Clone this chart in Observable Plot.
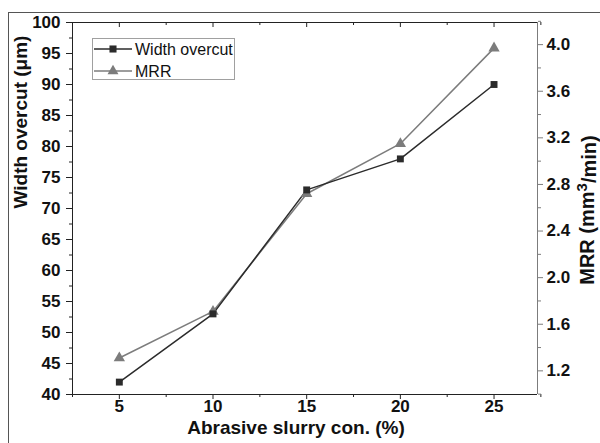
<!DOCTYPE html>
<html><head><meta charset="utf-8">
<script src="https://cdn.jsdelivr.net/npm/d3@7"></script>
<script src="https://cdn.jsdelivr.net/npm/@observablehq/plot@0.6"></script>
<style>
body{margin:0;background:#fff;}
#chart{position:relative;width:600px;height:443px;overflow:hidden;background:#fff;}
#chart svg{display:block;}
</style></head><body><div id="chart"></div>
<script>
// ---- data ----
const concentration = [5, 10, 15, 20, 25];
const widthOvercut = [42, 53, 73, 78, 90];
const mrr = [1.31, 1.71, 2.72, 3.15, 3.97];
const seriesNames = ["Width overcut", "MRR"];
const xTicks = [5, 10, 15, 20, 25];
const xMinorTicks = [2.5, 7.5, 12.5, 17.5, 22.5, 27.5];
const yTicks = [40, 45, 50, 55, 60, 65, 70, 75, 80, 85, 90, 95, 100];
const yMinorTicks = [42.5, 47.5, 52.5, 57.5, 62.5, 67.5, 72.5, 77.5, 82.5, 87.5, 92.5, 97.5];
const mrrTicks = [1.2, 1.6, 2.0, 2.4, 2.8, 3.2, 3.6, 4.0];
const mrrMinorTicks = [1.0, 1.4, 1.8, 2.2, 2.6, 3.0, 3.4, 3.8, 4.2];
const xTitle = "Abrasive slurry con. (%)";
const yTitle = "Width overcut (μm)";
const xDomain = [2.5, 27.32];
const yDomain = [40, 100];
const mrrDomain = [0.997, 4.19];

// ---- helpers ----
const FONT = "'Liberation Sans', Arial, Helvetica, sans-serif";
const toLeft = m => yDomain[0] + (m - mrrDomain[0]) / (mrrDomain[1] - mrrDomain[0]) * (yDomain[1] - yDomain[0]);
const rows = concentration.map((c, i) => ({c, w: widthOvercut[i], m: mrr[i]}));

const W = 600, H = 443, mL = 72, mR = 63, mT = 22, mB = 49;
const innerH = H - mT - mB;
const DARK = "#2b2b2b", GRAY = "#7c7c7c";
const TICKFONT = {fontSize: 17, fontWeight: "bold", fill: "#111"};

const plot = Plot.plot({
  width: W, height: H,
  marginLeft: mL, marginRight: mR, marginTop: mT, marginBottom: mB,
  x: {domain: xDomain},
  y: {domain: yDomain},
  style: {fontFamily: FONT, fontSize: "16px", background: "transparent", overflow: "hidden", color: "#111"},
  marks: [
    // frame lines
    Plot.ruleY([yDomain[1]], {stroke: "#222"}),
    Plot.ruleY([yDomain[0]], {stroke: "#222"}),
    Plot.ruleX([xDomain[0]], {stroke: "#222"}),
    Plot.ruleX([xDomain[1]], {stroke: GRAY}),
    // left axis ticks
    Plot.axisY(yTicks, {tickSize: 6, tickFormat: () => "", stroke: "#222", label: null}),
    Plot.axisY(yMinorTicks, {tickSize: 3, tickFormat: () => "", stroke: "#222", label: null}),
    Plot.text(yTicks, {x: xDomain[0], y: d => d, text: d => String(d), textAnchor: "end", dx: -12, ...TICKFONT}),
    // bottom axis ticks
    Plot.axisX(xTicks, {tickSize: 5, tickFormat: () => "", stroke: "#222", label: null}),
    Plot.axisX(xMinorTicks, {tickSize: 3, tickFormat: () => "", stroke: "#222", label: null}),
    Plot.text(xTicks, {x: d => d, frameAnchor: "bottom", dy: 17, text: d => String(d), ...TICKFONT}),
    // top inward ticks
    Plot.ruleX(xTicks, {x: d => d, insetBottom: innerH - 5, stroke: "#222"}),
    Plot.ruleX(xMinorTicks, {x: d => d, insetBottom: innerH - 3, stroke: "#222"}),
    // right (MRR) axis
    Plot.axisY(mrrTicks.map(toLeft), {anchor: "right", tickSize: 5, tickFormat: () => "", stroke: GRAY, label: null}),
    Plot.axisY(mrrMinorTicks.map(toLeft), {anchor: "right", tickSize: 3, tickFormat: () => "", stroke: GRAY, label: null}),
    Plot.text(mrrTicks, {x: xDomain[1], y: d => toLeft(d), text: d => d.toFixed(1), textAnchor: "start", dx: 9, ...TICKFONT}),
    // series
    Plot.line(rows, {x: "c", y: d => toLeft(d.m), stroke: GRAY, strokeWidth: 1.5}),
    Plot.line(rows, {x: "c", y: "w", stroke: DARK, strokeWidth: 1.5}),
    Plot.dot(rows, {x: "c", y: d => toLeft(d.m), symbol: "triangle", r: 4.2, fill: GRAY, stroke: null}),
    Plot.dot(rows, {x: "c", y: "w", symbol: "square", r: 3.9, fill: DARK, stroke: null}),
    // titles
    Plot.text([xTitle], {frameAnchor: "bottom", dx: -9, dy: 39, fontSize: 19, fontWeight: "bold", fill: "#111"}),
    Plot.text([yTitle], {frameAnchor: "left", dx: -52, rotate: -90, fontSize: 19, fontWeight: "bold", fill: "#111"})
  ]
});

document.getElementById("chart").appendChild(plot);

const svg = d3.select(plot);

// decorations: outer figure frame, right title with superscript, legend
svg.append("rect").attr("x", 8.5).attr("y", 12.5).attr("width", 800).attr("height", 800)
  .attr("fill", "none").attr("stroke", "#555");

const rt = svg.append("text")
  .attr("transform", "translate(594,210) rotate(-90)")
  .attr("text-anchor", "middle")
  .style("font-family", FONT).style("font-size", "20px").style("font-weight", "bold").attr("fill", "#111");
rt.append("tspan").text("MRR (mm");
rt.append("tspan").attr("dy", "-0.45em").style("font-size", "15px").text("3");
rt.append("tspan").attr("dy", "0.45em").text("/min)");

const lg = svg.append("g");
lg.append("rect").attr("x", 92.5).attr("y", 38.5).attr("width", 142).attr("height", 41)
  .attr("fill", "#fff").attr("stroke", "#a0a0a0");
const entries = [
  {name: seriesNames[0], color: DARK, sym: d3.symbolSquare, size: 50, y: 49},
  {name: seriesNames[1], color: GRAY, sym: d3.symbolTriangle, size: 52, y: 71}
];
for (const e of entries) {
  lg.append("line").attr("x1", 94).attr("x2", 132).attr("y1", e.y).attr("y2", e.y)
    .attr("stroke", e.color).attr("stroke-width", 1.5);
  lg.append("path").attr("d", d3.symbol(e.sym, e.size)()).attr("transform", `translate(113,${e.y})`).attr("fill", e.color);
  lg.append("text").attr("x", 135).attr("y", e.y).attr("dy", "0.35em")
    .attr("text-anchor", "start").style("font-weight", "normal")
    .style("font-family", FONT).style("font-size", "16px").attr("fill", "#111").text(e.name);
}
</script>
</body></html>
